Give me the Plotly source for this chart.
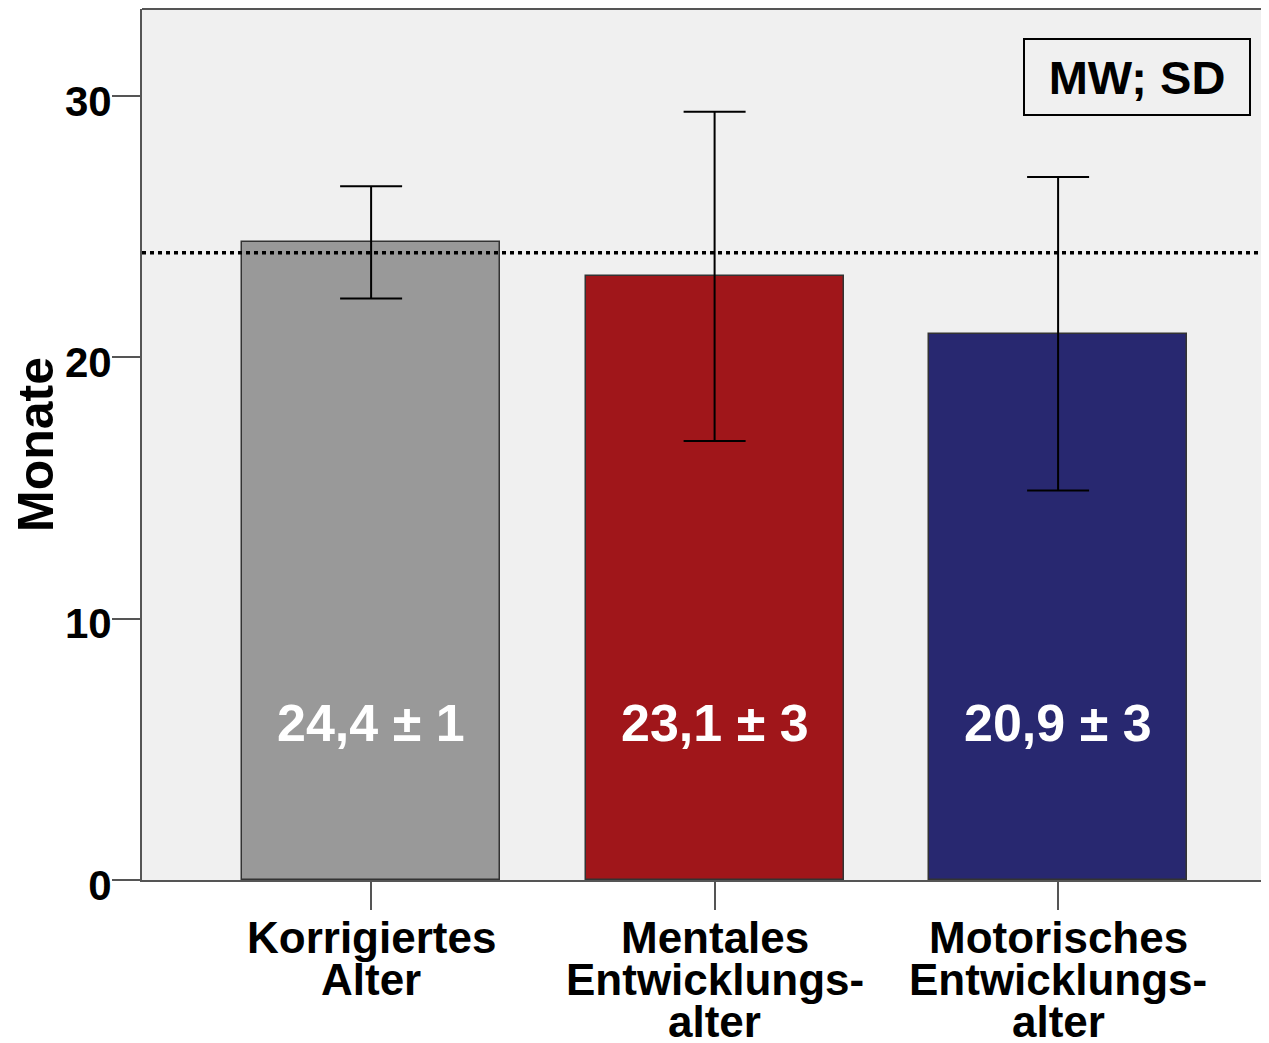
import plotly.graph_objects as go

categories = ["Korrigiertes Alter", "Mentales Entwicklungsalter", "Motorisches Entwicklungsalter"]
label_lines = [["Korrigiertes", "Alter"], ["Mentales", "Entwicklungs-", "alter"], ["Motorisches", "Entwicklungs-", "alter"]]
means = [24.4, 23.1, 20.9]
errors = [2.15, 6.3, 6.0]
value_labels = ["24,4 ± 1", "23,1 ± 3", "20,9 ± 3"]
colors = ["#999999", "#A0161A", "#282870"]
reference_value = 24
y_ticks = [0, 10, 20, 30]

FONT = "Liberation Sans, Arial, sans-serif"
xpos = list(range(len(categories)))

fig = go.Figure()
fig.add_trace(go.Bar(
    x=xpos, y=means, width=0.751,
    marker=dict(color=colors, line=dict(color="#333333", width=1.5)),
    error_y=dict(type="data", array=errors, visible=True, color="black", thickness=2, width=31),
    showlegend=False, hoverinfo="skip",
))

for i, t in enumerate(value_labels):
    fig.add_annotation(x=xpos[i], y=6, text=t, showarrow=False, xref="x", yref="y",
                       font=dict(family=FONT, size=52, color="white", weight="bold"),
                       yanchor="middle", xanchor="center")

# category labels (multi-line)
for i, lines in enumerate(label_lines):
    for j, line in enumerate(lines):
        fig.add_annotation(x=xpos[i], y=0, xref="x", yref="y", text=line, showarrow=False,
                           yanchor="middle", xanchor="center", yshift=-(57 + 42 * j),
                           borderpad=0,
                           font=dict(family=FONT, size=44, color="black", weight="bold"))

fig.add_hline(y=reference_value, line=dict(color="black", width=3.5, dash="4px,4px"))

# top border
fig.add_shape(type="line", xref="paper", yref="paper", x0=0, x1=1, y0=1, y1=1,
              line=dict(color="#555555", width=2))

fig.add_annotation(x=(1129 - 134) / 1127, y=(872 - 69) / 871, xref="paper", yref="paper",
                   text="MW; SD", showarrow=False, xanchor="center", yanchor="middle",
                   width=224, height=74, borderpad=0,
                   font=dict(family=FONT, size=47, color="black", weight="bold"),
                   bordercolor="black", borderwidth=2, bgcolor="#F0F0F0")

fig.update_layout(
    width=1261, height=1035,
    margin=dict(l=134, r=0, t=1, b=163),
    paper_bgcolor="white", plot_bgcolor="#F0F0F0",
    bargap=0,
    xaxis=dict(range=[-0.667, 2.614], tickvals=xpos, ticktext=["", "", ""],
               ticks="outside", ticklen=28, tickwidth=2, tickcolor="#555555",
               showline=True, linecolor="#555555", linewidth=2, showgrid=False, zeroline=False),
    yaxis=dict(range=[0, 33.33], tickvals=y_ticks, ticks="outside", ticklen=28, tickwidth=2,
               tickcolor="#555555", showline=True, linecolor="#555555", linewidth=2,
               showgrid=False, zeroline=False, ticklabelstandoff=-8, ticklabelshift=5,
               tickfont=dict(family=FONT, size=42, color="black", weight="bold"),
               title=dict(text="Monate", standoff=8,
                          font=dict(family=FONT, size=50, color="black", weight="bold"))),
)

fig.write_html("out.html")
